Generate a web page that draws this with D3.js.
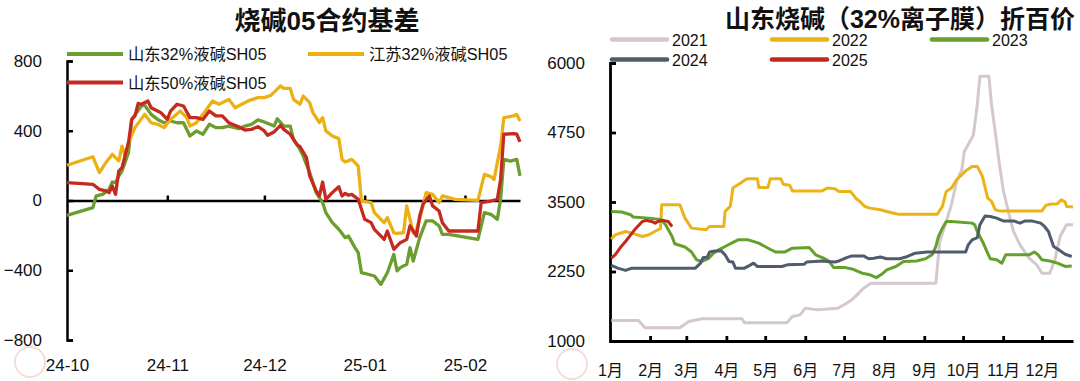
<!DOCTYPE html>
<html><head><meta charset="utf-8">
<script src="https://cdn.jsdelivr.net/npm/d3@7"></script>
<style>
html,body{margin:0;padding:0;background:#fff;}
svg{display:block;}
text{font-family:"Liberation Sans","Noto Sans CJK SC",sans-serif;fill:#111;}
</style></head><body>
<svg id="c" width="1080" height="381"></svg>
<script>
// ---------- Left chart data ----------
const leftTitle = "烧碱05合约基差";
const leftNames = ["山东32%液碱SH05", "江苏32%液碱SH05", "山东50%液碱SH05"];
const leftYTicks = [800, 400, 0, -400, -800];
const leftXTicks = ["2024-10-01", "2024-11-01", "2024-12-01", "2025-01-01", "2025-02-01"];
const leftXLabels = ["24-10", "24-11", "24-12", "25-01", "25-02"];
const leftDomain = ["2024-10-01", "2025-02-18"];

const sd32 = [["2024-10-01",-85],["2024-10-09",-41],["2024-10-10",26],["2024-10-12",35],["2024-10-14",64],["2024-10-15",106],["2024-10-16",102],["2024-10-17",140],["2024-10-18",169],["2024-10-20",274],["2024-10-21",465],["2024-10-24",542],["2024-10-25",546],["2024-10-27",494],["2024-10-29",465],["2024-10-31",446],["2024-11-02",456],["2024-11-04",446],["2024-11-06",446],["2024-11-08",370],["2024-11-10",399],["2024-11-12",380],["2024-11-14",437],["2024-11-16",418],["2024-11-18",418],["2024-11-20",427],["2024-11-23",412],["2024-11-25",427],["2024-11-27",437],["2024-11-29",462],["2024-12-01",450],["2024-12-04",427],["2024-12-05",469],["2024-12-07",427],["2024-12-09",427],["2024-12-10",351],["2024-12-12",293],["2024-12-13",255],["2024-12-15",160],["2024-12-17",45],["2024-12-19",-12],["2024-12-20",-70],["2024-12-22",-127],["2024-12-24",-165],["2024-12-26",-213],["2024-12-27",-204],["2024-12-29",-270],["2024-12-30",-299],["2024-12-31",-414],["2025-01-02",-423],["2025-01-04",-433],["2025-01-06",-481],["2025-01-08",-414],["2025-01-10",-309],["2025-01-11",-404],["2025-01-12",-385],["2025-01-14",-366],["2025-01-15",-270],["2025-01-16",-347],["2025-01-17",-280],["2025-01-18",-213],["2025-01-20",-117],["2025-01-22",-117],["2025-01-24",-146],["2025-01-25",-194],["2025-01-27",-194],["2025-02-05",-223],["2025-02-07",-70],["2025-02-09",-79],["2025-02-11",-108],["2025-02-12",7],["2025-02-13",236],["2025-02-15",226],["2025-02-17",236],["2025-02-18",141]];

const js32 = [["2024-10-01",202],["2024-10-09",251],["2024-10-11",160],["2024-10-13",217],["2024-10-15",265],["2024-10-17",227],["2024-10-18",312],["2024-10-19",255],["2024-10-20",332],["2024-10-22",418],["2024-10-25",494],["2024-10-27",446],["2024-10-29",437],["2024-10-31",418],["2024-11-02",465],["2024-11-05",513],["2024-11-07",475],["2024-11-08",427],["2024-11-10",446],["2024-11-12",494],["2024-11-15",571],["2024-11-17",552],["2024-11-20",580],["2024-11-22",532],["2024-11-24",552],["2024-11-26",571],["2024-11-29",590],["2024-12-01",590],["2024-12-03",603],["2024-12-06",657],["2024-12-07",643],["2024-12-09",643],["2024-12-10",580],["2024-12-12",552],["2024-12-13",599],["2024-12-15",561],["2024-12-16",504],["2024-12-18",446],["2024-12-19",475],["2024-12-20",399],["2024-12-22",370],["2024-12-24",355],["2024-12-25",236],["2024-12-26",221],["2024-12-28",236],["2024-12-29",217],["2024-12-30",198],["2024-12-31",-3],["2025-01-03",-12],["2025-01-04",-70],["2025-01-07",-127],["2025-01-08",-98],["2025-01-10",-185],["2025-01-11",-188],["2025-01-13",-185],["2025-01-14",-31],["2025-01-16",-185],["2025-01-17",-166],["2025-01-18",-108],["2025-01-20",45],["2025-01-22",35],["2025-01-24",-12],["2025-01-25",26],["2025-01-27",16],["2025-01-29",7],["2025-02-05",1],["2025-02-07",150],["2025-02-09",137],["2025-02-10",121],["2025-02-11",217],["2025-02-12",312],["2025-02-13",475],["2025-02-16",485],["2025-02-17",494],["2025-02-18",456]];

const sd50 = [["2024-10-01",102],["2024-10-09",93],["2024-10-11",64],["2024-10-13",55],["2024-10-14",45],["2024-10-15",83],["2024-10-16",35],["2024-10-17",169],["2024-10-18",188],["2024-10-20",332],["2024-10-21",465],["2024-10-22",485],["2024-10-23",557],["2024-10-24",552],["2024-10-26",571],["2024-10-27",532],["2024-10-29",513],["2024-10-30",504],["2024-11-01",465],["2024-11-02",513],["2024-11-04",552],["2024-11-06",542],["2024-11-08",475],["2024-11-10",475],["2024-11-12",465],["2024-11-14",513],["2024-11-16",485],["2024-11-18",485],["2024-11-20",446],["2024-11-23",423],["2024-11-25",404],["2024-11-27",408],["2024-11-29",423],["2024-12-01",399],["2024-12-02",374],["2024-12-04",393],["2024-12-06",431],["2024-12-07",408],["2024-12-09",380],["2024-12-11",322],["2024-12-12",309],["2024-12-14",246],["2024-12-15",141],["2024-12-17",55],["2024-12-18",26],["2024-12-19",106],["2024-12-20",7],["2024-12-22",45],["2024-12-24",79],["2024-12-25",26],["2024-12-26",41],["2024-12-27",30],["2024-12-28",35],["2024-12-30",7],["2025-01-01",-108],["2025-01-03",-127],["2025-01-04",-166],["2025-01-07",-223],["2025-01-08",-175],["2025-01-10",-280],["2025-01-12",-242],["2025-01-14",-223],["2025-01-15",-146],["2025-01-17",-204],["2025-01-18",-89],["2025-01-19",-22],["2025-01-21",26],["2025-01-22",-31],["2025-01-24",-60],["2025-01-25",-127],["2025-01-27",-175],["2025-02-05",-175],["2025-02-06",-12],["2025-02-09",-3],["2025-02-11",7],["2025-02-12",121],["2025-02-13",380],["2025-02-16",383],["2025-02-17",380],["2025-02-18",336]];

// ---------- Right chart data (x = day of year) ----------
const rightTitle = "山东烧碱（32%离子膜）折百价";
const rightYTicks = [6000, 4750, 3500, 2250, 1000];
const monthStartDays = [0, 31, 59, 90, 120, 151, 181, 212, 243, 273, 304, 334];
const monthLabels = ["1月","2月","3月","4月","5月","6月","7月","8月","9月","10月","11月","12月"];
const rightDayMax = 358;
const yearNames = ["2021", "2022", "2023", "2024", "2025"];

const y2021 = [[1,1370],[22,1370],[27,1240],[54,1240],[61,1350],[71,1400],[102,1400],[104,1330],[137,1330],[141,1440],[147,1470],[151,1590],[161,1560],[176,1590],[183,1680],[187,1740],[191,1830],[196,1950],[200,2010],[202,2040],[252,2040],[253,2310],[255,2790],[260,3150],[264,3450],[268,3870],[272,4080],[274,4410],[279,4620],[281,4710],[284,5250],[286,5760],[293,5760],[295,5250],[298,4740],[301,4200],[304,3720],[308,3330],[312,2970],[317,2730],[324,2490],[330,2370],[334,2220],[340,2220],[344,2460],[348,2880],[353,3090],[358,3090]];
const y2022 = [[1,2830],[4,2910],[12,2970],[17,2940],[25,2880],[30,2910],[37,3000],[39,3020],[40,3450],[54,3450],[58,3210],[63,3030],[74,3000],[77,3060],[88,3060],[89,3330],[93,3420],[95,3750],[101,3840],[106,3920],[114,3920],[115,3760],[122,3760],[124,3920],[132,3920],[134,3820],[139,3800],[141,3700],[164,3700],[168,3750],[174,3740],[177,3690],[186,3690],[190,3570],[193,3510],[197,3420],[201,3390],[209,3360],[217,3310],[223,3280],[253,3280],[257,3420],[260,3690],[264,3750],[268,3900],[275,4060],[280,4140],[284,4140],[288,3960],[292,3570],[295,3510],[298,3360],[301,3340],[334,3340],[337,3440],[340,3460],[346,3470],[349,3540],[352,3500],[353,3420],[358,3410]];
const y2023 = [[1,3330],[9,3320],[16,3270],[18,3230],[30,3210],[40,3180],[43,3090],[48,2880],[50,2750],[58,2690],[63,2600],[67,2460],[71,2430],[76,2480],[80,2580],[84,2640],[89,2700],[94,2760],[99,2820],[107,2820],[115,2760],[123,2660],[128,2600],[135,2600],[141,2670],[154,2680],[159,2550],[165,2490],[169,2440],[173,2320],[182,2320],[188,2290],[195,2220],[201,2190],[206,2140],[210,2200],[214,2280],[221,2340],[227,2430],[237,2440],[244,2480],[249,2550],[252,2700],[254,2880],[257,3030],[260,3150],[264,3150],[280,3120],[282,3090],[284,2970],[288,2790],[292,2580],[294,2480],[299,2460],[303,2400],[306,2550],[324,2550],[328,2600],[331,2550],[334,2460],[340,2440],[346,2400],[352,2340],[357,2350]];
const y2024 = [[1,2360],[6,2310],[12,2270],[17,2310],[66,2310],[70,2400],[72,2500],[75,2500],[77,2600],[81,2620],[86,2620],[89,2550],[92,2430],[95,2420],[97,2310],[104,2310],[108,2360],[111,2400],[114,2340],[133,2340],[137,2370],[150,2380],[152,2420],[164,2440],[168,2430],[174,2420],[177,2440],[183,2500],[187,2530],[196,2530],[200,2480],[204,2490],[209,2510],[214,2480],[224,2480],[230,2520],[236,2580],[245,2600],[275,2600],[277,2730],[280,2820],[284,2860],[286,3090],[290,3250],[294,3240],[299,3210],[304,3160],[312,3160],[317,3120],[321,3160],[326,3160],[333,3120],[336,3060],[339,2970],[343,2700],[347,2640],[352,2560],[357,2520]];
const y2025 = [[1,2490],[4,2550],[8,2680],[12,2790],[16,2910],[19,3000],[25,3150],[28,3170],[32,3150],[35,3120],[37,3150],[41,3170],[45,3150],[48,3060]];

// ---------- Drawing ----------
const svg = d3.select("#c");
const parse = d3.utcParse("%Y-%m-%d");
const fmt = d3.format("d");

// faint logo marks (drawn first, under everything)
[[30, 362], [572, 364]].forEach(w => {
  svg.append("circle").attr("cx", w[0]).attr("cy", w[1]).attr("r", 15).attr("fill", "none")
    .attr("stroke", "#f5dcdc").attr("stroke-width", 2);
});

// ----- Left chart -----
const L = {x0: 67, x1: 520, yTop: 61, yBot: 340};
const lx = d3.scaleUtc().domain(leftDomain.map(parse)).range([L.x0, L.x1]);
const ly = d3.scaleLinear().domain([-800, 800]).range([L.yBot, L.yTop]);

function styleAxis(g, w) {
  g.selectAll("path.domain").attr("stroke", "#000").attr("stroke-width", w);
  g.selectAll(".tick line").attr("stroke", "#000").attr("stroke-width", w);
}

const lyAxis = svg.append("g").attr("transform", `translate(${L.x0},0)`)
  .call(d3.axisLeft(ly).tickValues(leftYTicks).tickSizeInner(-6).tickSizeOuter(-6).tickPadding(25).tickFormat(fmt));
styleAxis(lyAxis, 2.5);
lyAxis.selectAll("text").attr("font-size", 17).attr("fill", "#111").attr("font-family", "Liberation Sans, sans-serif");

const lxAxis = svg.append("g").attr("transform", `translate(0,${ly(0)})`)
  .call(d3.axisBottom(lx).tickValues(leftXTicks.slice(1).map(parse)).tickSizeInner(-5).tickSizeOuter(0).tickFormat(""));
styleAxis(lxAxis, 2.5);

const lxLab = svg.append("g").attr("transform", `translate(0,${L.yBot})`)
  .call(d3.axisBottom(lx).tickValues(leftXTicks.map(parse)).tickSize(0).tickPadding(19)
    .tickFormat((d, i) => leftXLabels[i]));
lxLab.select("path.domain").remove();
lxLab.selectAll("text").attr("font-size", 17).attr("fill", "#111").attr("font-family", "Liberation Sans, sans-serif");

const leftColors = ["#6B9E2F", "#EBB013", "#C62A1E"];
const leftSeries = [sd32, js32, sd50];
const lline = d3.line().x(d => lx(parse(d[0]))).y(d => ly(d[1]));
leftSeries.forEach((s, i) => {
  svg.append("path").datum(s).attr("d", lline).attr("fill", "none")
    .attr("stroke", leftColors[i]).attr("stroke-width", 3.3).attr("stroke-linejoin", "round");
});

// left title & legend
svg.append("text").attr("x", 327).attr("y", 30).attr("text-anchor", "middle")
  .attr("font-size", 26).attr("font-weight", "bold").attr("font-family", "Noto Sans CJK SC, sans-serif").text(leftTitle);
const leftLegendPos = [[67, 54], [308, 54], [67, 82.5]];
leftLegendPos.forEach((p, i) => {
  svg.append("line").attr("x1", p[0]).attr("x2", p[0] + 56).attr("y1", p[1]).attr("y2", p[1])
    .attr("stroke", leftColors[i]).attr("stroke-width", 4.2);
  svg.append("text").attr("x", p[0] + 61).attr("y", p[1] + 6).attr("font-size", 16.3).text(leftNames[i]);
});

// ----- Right chart -----
const R = {x0: 610, x1: 1073, yTop: 63, yBot: 341};
const rx = d3.scaleLinear().domain([0, rightDayMax]).range([R.x0, R.x1]);
const ry = d3.scaleLinear().domain([1000, 6000]).range([R.yBot, R.yTop]);

const ryAxis = svg.append("g").attr("transform", `translate(${R.x0},0)`)
  .call(d3.axisLeft(ry).tickValues(rightYTicks).tickSizeInner(-6).tickSizeOuter(-6).tickPadding(25).tickFormat(fmt));
styleAxis(ryAxis, 2.8);
ryAxis.selectAll("text").attr("font-size", 17).attr("fill", "#111").attr("font-family", "Liberation Sans, sans-serif");

const rxAxis = svg.append("g").attr("transform", `translate(0,${R.yBot})`)
  .call(d3.axisBottom(rx).tickValues(monthStartDays).tickSizeInner(-5).tickSizeOuter(0).tickPadding(24)
    .tickFormat((d, i) => monthLabels[i]));
styleAxis(rxAxis, 2.8);
rxAxis.selectAll(".tick").filter((d, i) => i === 0).select("line").remove();
rxAxis.selectAll("text").attr("font-size", 16).attr("fill", "#111");

const rightColors = ["#D4C8CB", "#ECB315", "#65A02D", "#515B6E", "#C3281C"];
const rightSeries = [y2021, y2022, y2023, y2024, y2025];
const rline = d3.line().x(d => rx(d[0])).y(d => ry(d[1]));
rightSeries.forEach((s, i) => {
  svg.append("path").datum(s).attr("d", rline).attr("fill", "none")
    .attr("stroke", rightColors[i]).attr("stroke-width", 3).attr("stroke-linejoin", "round");
});

svg.append("text").attr("x", 900).attr("y", 28).attr("text-anchor", "middle")
  .attr("font-size", 25).attr("font-weight", "bold").attr("font-family", "Noto Sans CJK SC, sans-serif").text(rightTitle);
const rightLegendPos = [[612, 39.5], [772, 39.5], [932, 39.5], [612, 59.5], [772, 59.5]];
rightLegendPos.forEach((p, i) => {
  svg.append("line").attr("x1", p[0]).attr("x2", p[0] + 55).attr("y1", p[1]).attr("y2", p[1])
    .attr("stroke", rightColors[i]).attr("stroke-width", 4.6).attr("stroke-linecap", "round");
  svg.append("text").attr("x", p[0] + 60).attr("y", p[1] + 6.5).attr("font-size", 16).text(yearNames[i]);
});
</script>
</body></html>
